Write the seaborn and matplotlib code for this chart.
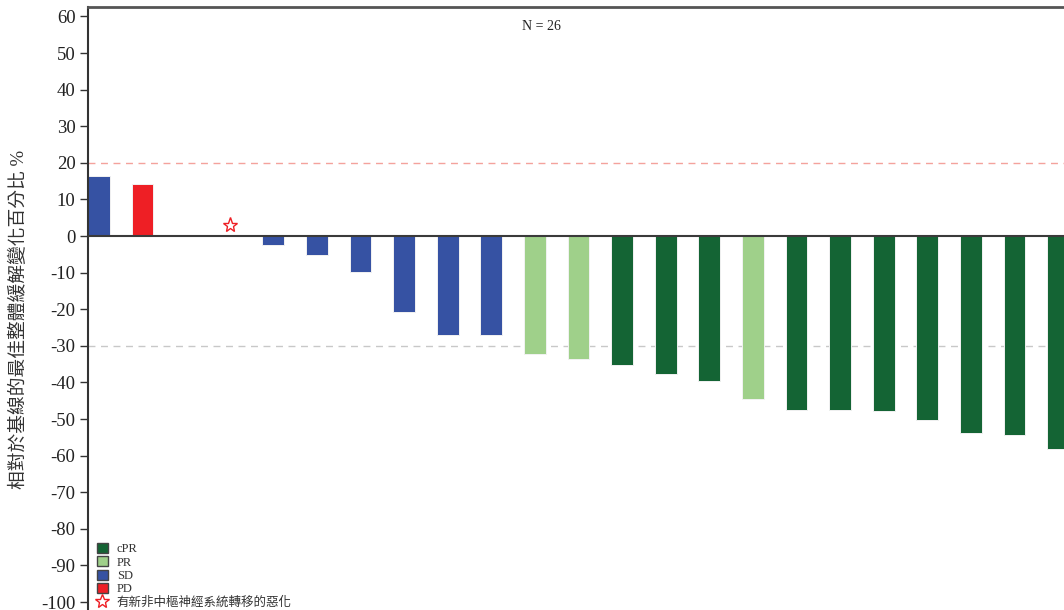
import pandas as pd
import matplotlib
matplotlib.use('Agg')
import matplotlib.pyplot as plt
import seaborn as sns
from matplotlib.patches import Patch
from matplotlib.lines import Line2D

# Data (N = 26, only the first 23 fall inside the frame)
patients = [f"P{i:02d}" for i in range(1, 24)]
best_change = [16.4, 14.2, None, None, -2.5, -5.2, -9.8, -20.7, -27.0, -27.0,
               -32.2, -33.5, -35.2, -37.8, -39.6, -44.4, -47.5, -47.6, -47.9,
               -50.3, -53.9, -54.4, -58.2]
response = ["SD", "PD", "NE", "NE", "SD", "SD", "SD", "SD", "SD", "SD",
            "PR", "PR", "cPR", "cPR", "cPR", "PR", "cPR", "cPR", "cPR",
            "cPR", "cPR", "cPR", "cPR"]
cns_patient = ["P04"]
cns_marker_y = [3.0]

resp_order = ["cPR", "PR", "SD", "PD"]
resp_colors = {"cPR": "#146434", "PR": "#9FD08A", "SD": "#3652A3", "PD": "#EE1F25", "NE": "#ffffff"}
cns_label = "有新非中樞神經系統轉移的惡化"

sns.set_style("white")
plt.rcParams['font.family'] = ['Liberation Serif', 'Noto Sans CJK TC']
plt.rcParams['axes.unicode_minus'] = False

df = pd.DataFrame({"patient": patients, "change": best_change, "response": response})

fig = plt.figure(figsize=(10.64, 6.10), dpi=100)
# axes runs past the right and bottom edges, like the cropped original
ax = fig.add_axes([0.0827, -0.017, 1.0654, 1.0056])

sns.barplot(data=df, x="patient", y="change", hue="response", order=patients,
            hue_order=resp_order + ["NE"], palette=resp_colors, dodge=False,
            saturation=1, width=0.5, edgecolor="#f2f2f2", linewidth=0.7,
            legend=False, ax=ax)

# new CNS progression marker
for p, yv in zip(cns_patient, cns_marker_y):
    ax.plot(patients.index(p), yv, marker="*", markersize=11, markerfacecolor="white",
            markeredgecolor="#EE1F25", markeredgewidth=1.0, linestyle="none", zorder=5)

ax.axhline(20, color="#F4A29C", linestyle=(0, (5, 4)), linewidth=1.0, zorder=0)
ax.axhline(-30, color="#C8C8C8", linestyle=(0, (5, 4)), linewidth=1.0, zorder=0)
ax.axhline(0, color="#3a3a3a", linewidth=1.5, zorder=4)

ax.set_xlim(-0.25, 25.75)
ax.set_ylim(-105, 62.6)
ax.set_yticks(range(-100, 61, 10))
ax.set_xticks([])
ax.set_xlabel("")
ax.tick_params(axis="y", direction="out", length=6, width=1, color="#333333",
               labelsize=13.5, labelcolor="#222222", left=True, pad=3)
for lab in ax.get_yticklabels():
    lab.set_fontfamily("Liberation Serif")

for side in ["right", "bottom"]:
    ax.spines[side].set_visible(False)
ax.spines["left"].set_color("#333333")
ax.spines["left"].set_linewidth(1.5)
ax.spines["top"].set_color("#555555")
ax.spines["top"].set_linewidth(2.0)

ax.set_ylabel("相對於基線的最佳整體緩解變化百分比 %", fontsize=13.5, color="#333333")
ax.yaxis.set_label_coords(-0.053, 0.491)

fig.text(541 / 1064, 1 - 27 / 610, "N = 26", fontsize=10, color="#222222",
         ha="center", va="center")

handles = [Patch(facecolor=resp_colors[r], edgecolor="#444444", linewidth=1.0, label=r)
           for r in resp_order]
handles.append(Line2D([], [], marker="*", markersize=10, markerfacecolor="white",
                      markeredgecolor="#EE1F25", markeredgewidth=1.0,
                      linestyle="none", label=cns_label))
leg = ax.legend(handles=handles, loc="lower left", bbox_to_anchor=(0.0, 0.005),
                frameon=False, fontsize=9, handlelength=0.9, handleheight=0.85,
                handletextpad=0.7, labelspacing=0.08, borderaxespad=0.3)
for t in leg.get_texts():
    t.set_color("#333333")

fig.savefig("out.png", dpi=100)
